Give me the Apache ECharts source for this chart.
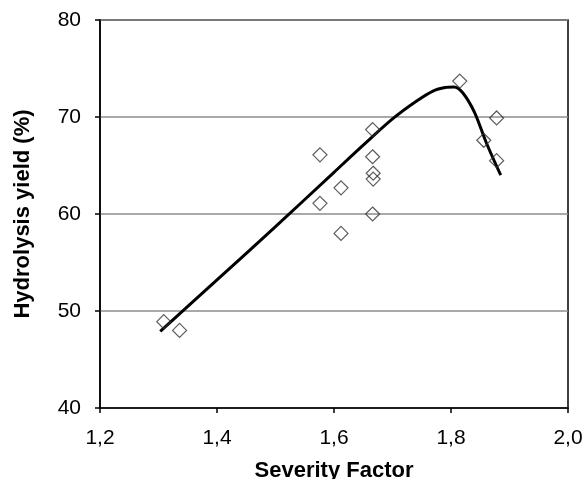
<!DOCTYPE html>
<html>
<head>
<meta charset="utf-8">
<script src="https://cdn.jsdelivr.net/npm/echarts@6/dist/echarts.min.js"></script>
<style>html,body{margin:0;padding:0;background:#fff;}#c{width:585px;height:479px;}</style>
</head>
<body>
<div id="c"></div>
<script>
// Measured points
const pointX = [1.309, 1.336, 1.576, 1.576, 1.612, 1.612, 1.666, 1.666, 1.667, 1.667, 1.666, 1.815, 1.878, 1.856, 1.878];
const pointY = [48.9, 48.0, 66.1, 61.1, 62.7, 58.0, 68.7, 65.9, 64.2, 63.6, 60.0, 73.7, 69.9, 67.6, 65.5];
// Fitted curve
const curveX = [1.303, 1.4, 1.5, 1.6, 1.65, 1.7, 1.74, 1.77, 1.79, 1.805, 1.82, 1.84, 1.86, 1.885];
const curveY = [47.9, 53.2, 58.7, 64.3, 67.1, 69.8, 71.6, 72.7, 73.05, 73.1, 72.5, 70.5, 67.4, 64.0];
const xTitle = 'Severity Factor';
const yTitle = 'Hydrolysis yield (%)';

const chart = echarts.init(document.getElementById('c'));
const font = '"Liberation Sans", Arial, sans-serif';
chart.setOption({
  animation: false,
  grid: {left: 100, right: 17, top: 20, bottom: 71, show: true, borderColor: '#000', borderWidth: 1.5,
    containLabel: false, outerBoundsMode: 'none'},
  xAxis: {
    type: 'value', min: 1.2, max: 2.0, interval: 0.2,
    name: xTitle, nameLocation: 'middle', nameGap: 52,
    nameTextStyle: {fontFamily: font, fontSize: 22, fontWeight: 'bold', color: '#000'},
    axisLine: {lineStyle: {color: '#000', width: 1.5}},
    axisTick: {show: true, inside: false, length: 5, lineStyle: {color: '#000', width: 1.5}},
    axisLabel: {fontFamily: font, fontSize: 21, color: '#000', margin: 20,
      formatter: v => v.toFixed(1).replace('.', ',')},
    splitLine: {show: false}
  },
  yAxis: {
    type: 'value', min: 40, max: 80, interval: 10,
    name: yTitle, nameLocation: 'middle', nameGap: 66, nameRotate: 90,
    nameTextStyle: {fontFamily: font, fontSize: 22, fontWeight: 'bold', color: '#000'},
    axisLine: {show: true, lineStyle: {color: '#000', width: 1.5}},
    axisTick: {show: true, inside: false, length: 5, lineStyle: {color: '#000', width: 1.5}},
    axisLabel: {fontFamily: font, fontSize: 21, color: '#000', margin: 19},
    splitLine: {show: true, lineStyle: {color: '#8c8c8c', width: 1.5}}
  },
  series: [
    {
      type: 'line', data: curveX.map((x, i) => [x, curveY[i]]),
      smooth: 0.3, showSymbol: false, symbol: 'none',
      lineStyle: {color: '#000', width: 3}, z: 2
    },
    {
      type: 'scatter', data: pointX.map((x, i) => [x, pointY[i]]),
      symbol: 'diamond', symbolSize: 14,
      itemStyle: {color: 'rgba(255,255,255,0)', borderColor: '#333', borderWidth: 1.2}, z: 3
    }
  ]
});
</script>
</body>
</html>
